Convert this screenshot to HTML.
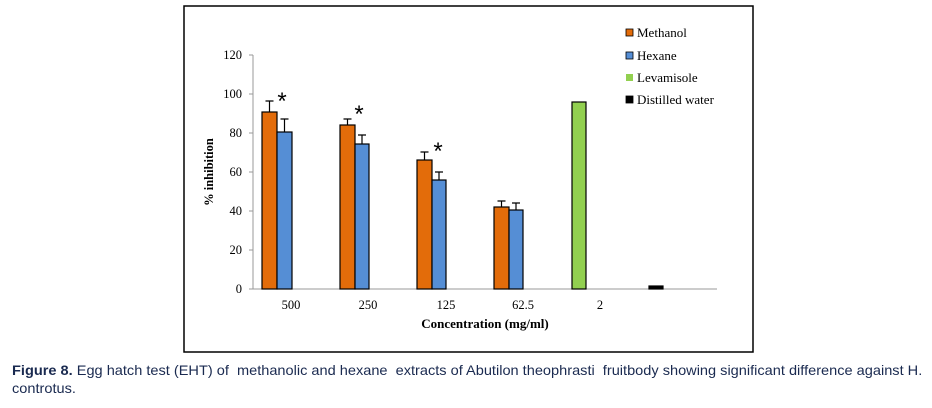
<!DOCTYPE html>
<html><head><meta charset="utf-8"><style>
html,body{margin:0;padding:0;background:#fff;}
body{width:932px;height:408px;position:relative;overflow:hidden;}
svg{position:absolute;left:0;top:0;}
.cap{position:absolute;left:12px;top:362px;font-family:"Liberation Sans",Arial,sans-serif;font-size:14px;line-height:17.5px;color:#1a2a50;transform:scaleX(1.04);transform-origin:0 0;width:1100px;white-space:nowrap;}
</style></head><body>
<svg width="932" height="408" xmlns="http://www.w3.org/2000/svg" font-family="Liberation Serif, serif">
<rect x="184" y="6" width="569" height="346" fill="#fff" stroke="#000" stroke-width="1.5"/>
<g stroke="#999" stroke-width="1">
<line x1="253" y1="55" x2="253" y2="289"/>
<line x1="253" y1="289" x2="717" y2="289"/>
<line x1="249" y1="55" x2="253" y2="55"/><line x1="249" y1="94" x2="253" y2="94"/>
<line x1="249" y1="133" x2="253" y2="133"/><line x1="249" y1="172" x2="253" y2="172"/>
<line x1="249" y1="211" x2="253" y2="211"/><line x1="249" y1="250" x2="253" y2="250"/>
<line x1="249" y1="289" x2="253" y2="289"/>
</g>
<g font-size="12.5" text-anchor="end" fill="#000">
<text x="242" y="59">120</text><text x="242" y="98">100</text><text x="242" y="137">80</text>
<text x="242" y="176">60</text><text x="242" y="215">40</text><text x="242" y="254">20</text><text x="242" y="293">0</text>
</g>
<g stroke="#000" stroke-width="1.2">
<rect x="262" y="112" width="15" height="177" fill="#e36c0a"/>
<rect x="277" y="132" width="15" height="157" fill="#558ed5"/>
<rect x="340" y="125" width="15" height="164" fill="#e36c0a"/>
<rect x="355" y="144" width="14" height="145" fill="#558ed5"/>
<rect x="417" y="160" width="15" height="129" fill="#e36c0a"/>
<rect x="432" y="180" width="14" height="109" fill="#558ed5"/>
<rect x="494" y="207" width="15" height="82" fill="#e36c0a"/>
<rect x="509" y="210" width="14" height="79" fill="#558ed5"/>
<rect x="572" y="102" width="14" height="187" fill="#92d050"/>
<rect x="649" y="286" width="14" height="3" fill="#000"/>
<path d="M269.5 112V101M265.5 101h8M284.5 132V119M280.5 119h8M347.5 125V119M343.5 119h8M362 144V135M358 135h8M424.5 160V152M420.5 152h8M439 180V172M435 172h8M501.5 207V201M497.5 201h8M516 210V203M512 203h8" fill="none"/>
</g>
<g font-size="24" text-anchor="middle" fill="#000" font-family="Liberation Sans, sans-serif">
<text x="282" y="109">*</text><text x="359" y="122">*</text><text x="438" y="159">*</text>
</g>
<g font-size="12.5" text-anchor="middle" fill="#000">
<text x="291" y="309">500</text><text x="368" y="309">250</text><text x="446" y="309">125</text>
<text x="523" y="309">62.5</text><text x="600" y="309">2</text>
<text x="485" y="328" font-weight="bold" font-size="13">Concentration (mg/ml)</text>
<text transform="translate(213 172) rotate(-90)" font-weight="bold" font-size="12.5">% inhibition</text>
</g>
<g stroke="#000" stroke-width="0.8">
<rect x="626" y="29" width="7" height="7" fill="#e36c0a"/>
<rect x="626" y="52" width="7" height="7" fill="#558ed5"/>
<rect x="626" y="74" width="7" height="7" fill="#92d050" stroke="none"/>
<rect x="626" y="96" width="7" height="7" fill="#000"/>
</g>
<g font-size="13" fill="#000">
<text x="637" y="37">Methanol</text><text x="637" y="60">Hexane</text>
<text x="637" y="82">Levamisole</text><text x="637" y="104">Distilled water</text>
</g>
</svg>
<div class="cap"><b>Figure 8.</b> Egg hatch test (EHT) of&nbsp; methanolic and hexane&nbsp; extracts of Abutilon theophrasti&nbsp; fruitbody showing significant difference against H.<br>controtus.</div>
</body></html>
